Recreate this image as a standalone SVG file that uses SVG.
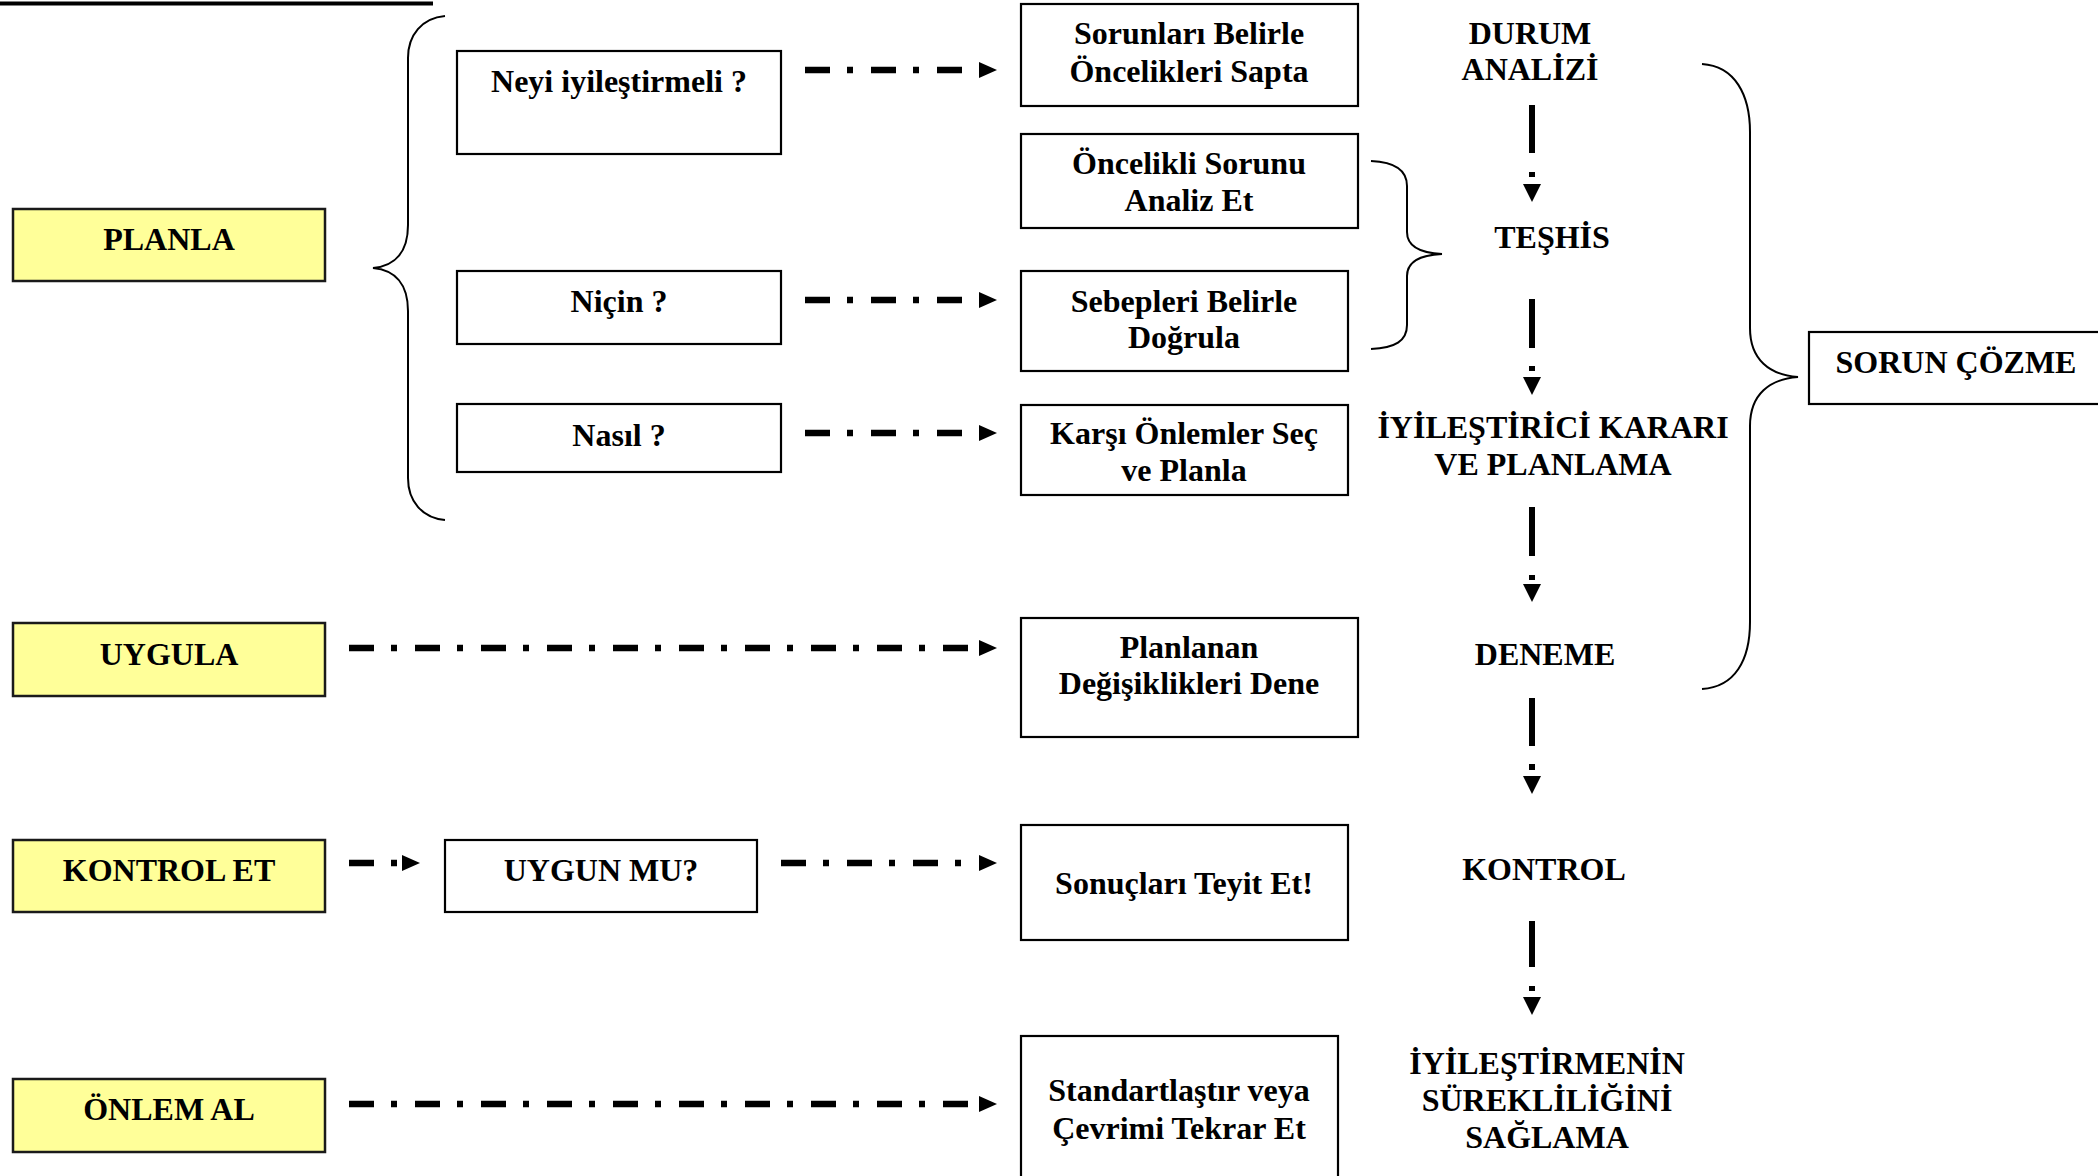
<svg xmlns="http://www.w3.org/2000/svg" width="2098" height="1176" viewBox="0 0 2098 1176">
<defs>
<style>
.box{fill:#fff;stroke:#000;stroke-width:2.2}
.ybox{fill:#FFFF99;stroke:#1a1a1a;stroke-width:2.5}
.t{font-family:"Liberation Serif","Times New Roman",serif;font-weight:bold;font-size:32px;fill:#000;text-anchor:middle}
.h{stroke:#000;stroke-width:6.5;fill:none;stroke-dasharray:25 17 6 18}
.v{stroke:#000;stroke-width:6;fill:none}
.brace{stroke:#000;stroke-width:2;fill:none}
.head{fill:#000}
</style>
</defs>
<rect width="2098" height="1176" fill="#fff"/>
<line x1="0" y1="3.5" x2="433" y2="3.5" stroke="#000" stroke-width="4"/>

<g id="planla"><rect class="ybox" x="13" y="209" width="312" height="72"/><text class="t" x="169" y="250">PLANLA</text></g>
<g id="uygula"><rect class="ybox" x="13" y="623" width="312" height="73"/><text class="t" x="169" y="665">UYGULA</text></g>
<g id="kontrolet"><rect class="ybox" x="13" y="840" width="312" height="72"/><text class="t" x="169" y="881">KONTROL ET</text></g>
<g id="onlemal"><rect class="ybox" x="13" y="1079" width="312" height="73"/><text class="t" x="169" y="1120">ÖNLEM AL</text></g>

<g id="neyi"><rect class="box" x="457" y="51" width="324" height="103"/><text class="t" x="619" y="92">Neyi iyileştirmeli ?</text></g>
<g id="nicin"><rect class="box" x="457" y="271" width="324" height="73"/><text class="t" x="619" y="312">Niçin ?</text></g>
<g id="nasil"><rect class="box" x="457" y="404" width="324" height="68"/><text class="t" x="619" y="446">Nasıl ?</text></g>
<g id="uygunmu"><rect class="box" x="445" y="840" width="312" height="72"/><text class="t" x="601" y="881">UYGUN MU?</text></g>

<g id="sorunlari"><rect class="box" x="1021" y="4" width="337" height="102"/><text class="t" x="1189" y="44">Sorunları Belirle</text><text class="t" x="1189" y="82">Öncelikleri Sapta</text></g>
<g id="oncelikli"><rect class="box" x="1021" y="134" width="337" height="94"/><text class="t" x="1189" y="174">Öncelikli Sorunu</text><text class="t" x="1189" y="211">Analiz Et</text></g>
<g id="sebepleri"><rect class="box" x="1021" y="271" width="327" height="100"/><text class="t" x="1184" y="312">Sebepleri Belirle</text><text class="t" x="1184" y="348">Doğrula</text></g>
<g id="karsi"><rect class="box" x="1021" y="405" width="327" height="90"/><text class="t" x="1184" y="444">Karşı Önlemler Seç</text><text class="t" x="1184" y="481">ve Planla</text></g>
<g id="planlanan"><rect class="box" x="1021" y="618" width="337" height="119"/><text class="t" x="1189" y="658">Planlanan</text><text class="t" x="1189" y="694">Değişiklikleri Dene</text></g>
<g id="sonuclari"><rect class="box" x="1021" y="825" width="327" height="115"/><text class="t" x="1184" y="894">Sonuçları Teyit Et!</text></g>
<g id="standart"><rect class="box" x="1021" y="1036" width="317" height="160"/><text class="t" x="1179" y="1101">Standartlaştır veya</text><text class="t" x="1179" y="1139">Çevrimi Tekrar Et</text></g>

<g id="durum"><text class="t" x="1530" y="44">DURUM</text><text class="t" x="1530" y="80">ANALİZİ</text></g>
<g id="teshis"><text class="t" x="1552" y="248">TEŞHİS</text></g>
<g id="iyilestirici"><text class="t" x="1553" y="438">İYİLEŞTİRİCİ KARARI</text><text class="t" x="1553" y="475">VE PLANLAMA</text></g>
<g id="deneme"><text class="t" x="1545" y="665">DENEME</text></g>
<g id="kontrol"><text class="t" x="1544" y="880">KONTROL</text></g>
<g id="surekli"><text class="t" x="1547" y="1074">İYİLEŞTİRMENİN</text><text class="t" x="1547" y="1111">SÜREKLİLİĞİNİ</text><text class="t" x="1547" y="1148">SAĞLAMA</text></g>
<g id="sorun"><rect class="box" x="1809" y="332" width="310" height="72"/><text class="t" x="1956" y="373">SORUN ÇÖZME</text></g>

<g id="connectors">
<path class="brace" d="M445,16 C422,18 408,35 408,58 L408,225 C408,252 395,266 373,268 C395,270 408,284 408,311 L408,478 C408,501 422,518 445,520"/>
<path class="brace" d="M1371,161 C1395,162 1407,170 1407,186 L1407,232 C1407,247 1420,253 1442,254 C1420,255 1407,261 1407,276 L1407,325 C1407,341 1395,348 1371,349"/>
<path class="brace" d="M1702,64 C1735,66 1750,95 1750,132 L1750,328 C1750,360 1770,375 1798,377 C1770,379 1750,394 1750,426 L1750,622 C1750,660 1735,687 1702,689"/>

<line class="h" x1="805" y1="70" x2="962" y2="70"/><polygon class="head" points="979,62 997,70 979,78"/>
<line class="h" x1="805" y1="300" x2="962" y2="300"/><polygon class="head" points="979,292 997,300 979,308"/>
<line class="h" x1="805" y1="433" x2="962" y2="433"/><polygon class="head" points="979,425 997,433 979,441"/>
<line class="h" x1="349" y1="648" x2="968" y2="648"/><polygon class="head" points="979,640 997,648 979,656"/>
<line class="h" x1="349" y1="863" x2="397" y2="863"/><polygon class="head" points="402,855 420,863 402,871"/>
<line class="h" x1="781" y1="863" x2="961" y2="863"/><polygon class="head" points="979,855 997,863 979,871"/>
<line class="h" x1="349" y1="1104" x2="968" y2="1104"/><polygon class="head" points="979,1096 997,1104 979,1112"/>

<g>
<line class="v" x1="1532" y1="105" x2="1532" y2="153"/><line class="v" x1="1532" y1="172" x2="1532" y2="177"/><polygon class="head" points="1523,184 1541,184 1532,202"/>
<line class="v" x1="1532" y1="299" x2="1532" y2="348"/><line class="v" x1="1532" y1="366" x2="1532" y2="371"/><polygon class="head" points="1523,377 1541,377 1532,395"/>
<line class="v" x1="1532" y1="507" x2="1532" y2="556"/><line class="v" x1="1532" y1="575" x2="1532" y2="580"/><polygon class="head" points="1523,584 1541,584 1532,602"/>
<line class="v" x1="1532" y1="698" x2="1532" y2="746"/><line class="v" x1="1532" y1="764" x2="1532" y2="770"/><polygon class="head" points="1523,776 1541,776 1532,794"/>
<line class="v" x1="1532" y1="921" x2="1532" y2="967"/><line class="v" x1="1532" y1="986" x2="1532" y2="991"/><polygon class="head" points="1523,997 1541,997 1532,1015"/>
</g>
</g>
</svg>
